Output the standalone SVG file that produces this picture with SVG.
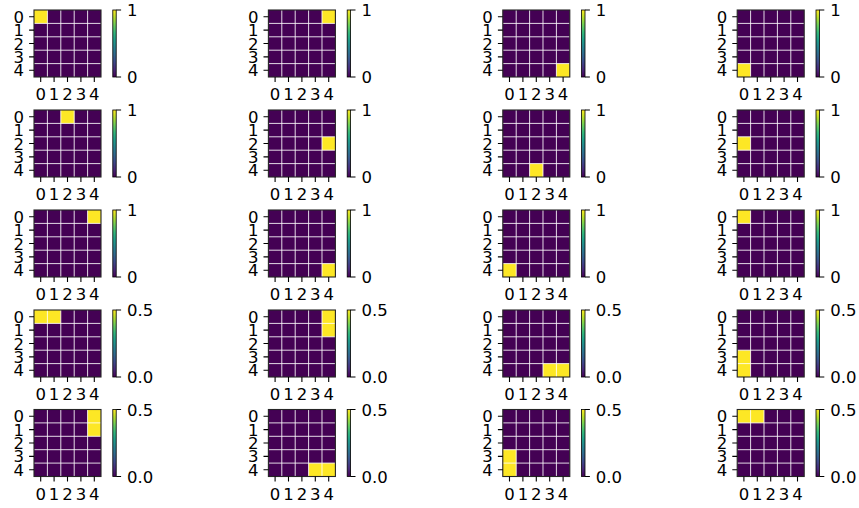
<svg xmlns="http://www.w3.org/2000/svg" xmlns:xlink="http://www.w3.org/1999/xlink" width="859" height="508" viewBox="0 0 859 508">
<style>
.bg{fill:#440154}
.hi{fill:#fde725}
text{font-family:"DejaVu Sans","Liberation Sans",sans-serif;font-size:16.5px;fill:#000}
.yl{text-anchor:end}
.xl{text-anchor:middle}
</style>
<defs>
<linearGradient id="vir" x1="0" y1="1" x2="0" y2="0">
<stop offset="0" stop-color="#440154"/>
<stop offset="0.111" stop-color="#482878"/>
<stop offset="0.222" stop-color="#3e4989"/>
<stop offset="0.333" stop-color="#31688e"/>
<stop offset="0.444" stop-color="#26828e"/>
<stop offset="0.556" stop-color="#1f9e89"/>
<stop offset="0.667" stop-color="#35b779"/>
<stop offset="0.778" stop-color="#6ece58"/>
<stop offset="0.889" stop-color="#b5de2b"/>
<stop offset="1" stop-color="#fde725"/>
</linearGradient>
<g id="ov">
<path d="M13.4 0V67M26.8 0V67M40.2 0V67M53.6 0V67M0 13.4H67M0 26.8H67M0 40.2H67M0 53.6H67" stroke="#ffffff" stroke-width="1" stroke-opacity="0.85" fill="none"/>
<rect x="0" y="0" width="67" height="67" fill="none" stroke="#262626" stroke-width="1.1"/>
<path d="M-4.9 6.7H0M-4.9 20.1H0M-4.9 33.5H0M-4.9 46.9H0M-4.9 60.3H0M6.7 67V71.9M20.1 67V71.9M33.5 67V71.9M46.9 67V71.9M60.3 67V71.9" stroke="#000" stroke-width="1.1" fill="none"/>
</g>
<g id="cb">
<rect x="78.8" y="0" width="3.4" height="67" fill="url(#vir)" stroke="#000" stroke-width="0.8"/>
<path d="M82.2 0H87.1M82.2 67H87.1" stroke="#000" stroke-width="1.1" fill="none"/>
</g>
</defs>
<g id="connectors"></g>

<!-- Row 1 -->
<g id="p1" transform="translate(34,10)">
<rect class="bg" width="67" height="67"/>
<rect class="hi" x="0" y="0" width="13.4" height="13.4"/>
<use href="#ov"/><use href="#cb"/>
<text class="yl" x="-10" y="12.7">0</text><text class="yl" x="-10" y="26.1">1</text><text class="yl" x="-10" y="39.5">2</text><text class="yl" x="-10" y="52.9">3</text><text class="yl" x="-10" y="66.3">4</text>
<text class="xl" x="6.7" y="90">0</text><text class="xl" x="20.1" y="90">1</text><text class="xl" x="33.5" y="90">2</text><text class="xl" x="46.9" y="90">3</text><text class="xl" x="60.3" y="90">4</text>
<text x="93" y="6">1</text><text x="93" y="73">0</text>
</g>
<g id="p2" transform="translate(268.4,10)">
<rect class="bg" width="67" height="67"/>
<rect class="hi" x="53.6" y="0" width="13.4" height="13.4"/>
<use href="#ov"/><use href="#cb"/>
<text class="yl" x="-10" y="12.7">0</text><text class="yl" x="-10" y="26.1">1</text><text class="yl" x="-10" y="39.5">2</text><text class="yl" x="-10" y="52.9">3</text><text class="yl" x="-10" y="66.3">4</text>
<text class="xl" x="6.7" y="90">0</text><text class="xl" x="20.1" y="90">1</text><text class="xl" x="33.5" y="90">2</text><text class="xl" x="46.9" y="90">3</text><text class="xl" x="60.3" y="90">4</text>
<text x="93" y="6">1</text><text x="93" y="73">0</text>
</g>
<g id="p3" transform="translate(502.8,10)">
<rect class="bg" width="67" height="67"/>
<rect class="hi" x="53.6" y="53.6" width="13.4" height="13.4"/>
<use href="#ov"/><use href="#cb"/>
<text class="yl" x="-10" y="12.7">0</text><text class="yl" x="-10" y="26.1">1</text><text class="yl" x="-10" y="39.5">2</text><text class="yl" x="-10" y="52.9">3</text><text class="yl" x="-10" y="66.3">4</text>
<text class="xl" x="6.7" y="90">0</text><text class="xl" x="20.1" y="90">1</text><text class="xl" x="33.5" y="90">2</text><text class="xl" x="46.9" y="90">3</text><text class="xl" x="60.3" y="90">4</text>
<text x="93" y="6">1</text><text x="93" y="73">0</text>
</g>
<g id="p4" transform="translate(737.2,10)">
<rect class="bg" width="67" height="67"/>
<rect class="hi" x="0" y="53.6" width="13.4" height="13.4"/>
<use href="#ov"/><use href="#cb"/>
<text class="yl" x="-10" y="12.7">0</text><text class="yl" x="-10" y="26.1">1</text><text class="yl" x="-10" y="39.5">2</text><text class="yl" x="-10" y="52.9">3</text><text class="yl" x="-10" y="66.3">4</text>
<text class="xl" x="6.7" y="90">0</text><text class="xl" x="20.1" y="90">1</text><text class="xl" x="33.5" y="90">2</text><text class="xl" x="46.9" y="90">3</text><text class="xl" x="60.3" y="90">4</text>
<text x="93" y="6">1</text><text x="93" y="73">0</text>
</g>

<!-- Row 2 -->
<g id="p5" transform="translate(34,110)">
<rect class="bg" width="67" height="67"/>
<rect class="hi" x="26.8" y="0" width="13.4" height="13.4"/>
<use href="#ov"/><use href="#cb"/>
<text class="yl" x="-10" y="12.7">0</text><text class="yl" x="-10" y="26.1">1</text><text class="yl" x="-10" y="39.5">2</text><text class="yl" x="-10" y="52.9">3</text><text class="yl" x="-10" y="66.3">4</text>
<text class="xl" x="6.7" y="90">0</text><text class="xl" x="20.1" y="90">1</text><text class="xl" x="33.5" y="90">2</text><text class="xl" x="46.9" y="90">3</text><text class="xl" x="60.3" y="90">4</text>
<text x="93" y="6">1</text><text x="93" y="73">0</text>
</g>
<g id="p6" transform="translate(268.4,110)">
<rect class="bg" width="67" height="67"/>
<rect class="hi" x="53.6" y="26.8" width="13.4" height="13.4"/>
<use href="#ov"/><use href="#cb"/>
<text class="yl" x="-10" y="12.7">0</text><text class="yl" x="-10" y="26.1">1</text><text class="yl" x="-10" y="39.5">2</text><text class="yl" x="-10" y="52.9">3</text><text class="yl" x="-10" y="66.3">4</text>
<text class="xl" x="6.7" y="90">0</text><text class="xl" x="20.1" y="90">1</text><text class="xl" x="33.5" y="90">2</text><text class="xl" x="46.9" y="90">3</text><text class="xl" x="60.3" y="90">4</text>
<text x="93" y="6">1</text><text x="93" y="73">0</text>
</g>
<g id="p7" transform="translate(502.8,110)">
<rect class="bg" width="67" height="67"/>
<rect class="hi" x="26.8" y="53.6" width="13.4" height="13.4"/>
<use href="#ov"/><use href="#cb"/>
<text class="yl" x="-10" y="12.7">0</text><text class="yl" x="-10" y="26.1">1</text><text class="yl" x="-10" y="39.5">2</text><text class="yl" x="-10" y="52.9">3</text><text class="yl" x="-10" y="66.3">4</text>
<text class="xl" x="6.7" y="90">0</text><text class="xl" x="20.1" y="90">1</text><text class="xl" x="33.5" y="90">2</text><text class="xl" x="46.9" y="90">3</text><text class="xl" x="60.3" y="90">4</text>
<text x="93" y="6">1</text><text x="93" y="73">0</text>
</g>
<g id="p8" transform="translate(737.2,110)">
<rect class="bg" width="67" height="67"/>
<rect class="hi" x="0" y="26.8" width="13.4" height="13.4"/>
<use href="#ov"/><use href="#cb"/>
<text class="yl" x="-10" y="12.7">0</text><text class="yl" x="-10" y="26.1">1</text><text class="yl" x="-10" y="39.5">2</text><text class="yl" x="-10" y="52.9">3</text><text class="yl" x="-10" y="66.3">4</text>
<text class="xl" x="6.7" y="90">0</text><text class="xl" x="20.1" y="90">1</text><text class="xl" x="33.5" y="90">2</text><text class="xl" x="46.9" y="90">3</text><text class="xl" x="60.3" y="90">4</text>
<text x="93" y="6">1</text><text x="93" y="73">0</text>
</g>

<!-- Row 3 -->
<g id="p9" transform="translate(34,210)">
<rect class="bg" width="67" height="67"/>
<rect class="hi" x="53.6" y="0" width="13.4" height="13.4"/>
<use href="#ov"/><use href="#cb"/>
<text class="yl" x="-10" y="12.7">0</text><text class="yl" x="-10" y="26.1">1</text><text class="yl" x="-10" y="39.5">2</text><text class="yl" x="-10" y="52.9">3</text><text class="yl" x="-10" y="66.3">4</text>
<text class="xl" x="6.7" y="90">0</text><text class="xl" x="20.1" y="90">1</text><text class="xl" x="33.5" y="90">2</text><text class="xl" x="46.9" y="90">3</text><text class="xl" x="60.3" y="90">4</text>
<text x="93" y="6">1</text><text x="93" y="73">0</text>
</g>
<g id="p10" transform="translate(268.4,210)">
<rect class="bg" width="67" height="67"/>
<rect class="hi" x="53.6" y="53.6" width="13.4" height="13.4"/>
<use href="#ov"/><use href="#cb"/>
<text class="yl" x="-10" y="12.7">0</text><text class="yl" x="-10" y="26.1">1</text><text class="yl" x="-10" y="39.5">2</text><text class="yl" x="-10" y="52.9">3</text><text class="yl" x="-10" y="66.3">4</text>
<text class="xl" x="6.7" y="90">0</text><text class="xl" x="20.1" y="90">1</text><text class="xl" x="33.5" y="90">2</text><text class="xl" x="46.9" y="90">3</text><text class="xl" x="60.3" y="90">4</text>
<text x="93" y="6">1</text><text x="93" y="73">0</text>
</g>
<g id="p11" transform="translate(502.8,210)">
<rect class="bg" width="67" height="67"/>
<rect class="hi" x="0" y="53.6" width="13.4" height="13.4"/>
<use href="#ov"/><use href="#cb"/>
<text class="yl" x="-10" y="12.7">0</text><text class="yl" x="-10" y="26.1">1</text><text class="yl" x="-10" y="39.5">2</text><text class="yl" x="-10" y="52.9">3</text><text class="yl" x="-10" y="66.3">4</text>
<text class="xl" x="6.7" y="90">0</text><text class="xl" x="20.1" y="90">1</text><text class="xl" x="33.5" y="90">2</text><text class="xl" x="46.9" y="90">3</text><text class="xl" x="60.3" y="90">4</text>
<text x="93" y="6">1</text><text x="93" y="73">0</text>
</g>
<g id="p12" transform="translate(737.2,210)">
<rect class="bg" width="67" height="67"/>
<rect class="hi" x="0" y="0" width="13.4" height="13.4"/>
<use href="#ov"/><use href="#cb"/>
<text class="yl" x="-10" y="12.7">0</text><text class="yl" x="-10" y="26.1">1</text><text class="yl" x="-10" y="39.5">2</text><text class="yl" x="-10" y="52.9">3</text><text class="yl" x="-10" y="66.3">4</text>
<text class="xl" x="6.7" y="90">0</text><text class="xl" x="20.1" y="90">1</text><text class="xl" x="33.5" y="90">2</text><text class="xl" x="46.9" y="90">3</text><text class="xl" x="60.3" y="90">4</text>
<text x="93" y="6">1</text><text x="93" y="73">0</text>
</g>

<!-- Row 4 -->
<g id="p13" transform="translate(34,310)">
<rect class="bg" width="67" height="67"/>
<rect class="hi" x="0" y="0" width="26.8" height="13.4"/>
<use href="#ov"/><use href="#cb"/>
<text class="yl" x="-10" y="12.7">0</text><text class="yl" x="-10" y="26.1">1</text><text class="yl" x="-10" y="39.5">2</text><text class="yl" x="-10" y="52.9">3</text><text class="yl" x="-10" y="66.3">4</text>
<text class="xl" x="6.7" y="90">0</text><text class="xl" x="20.1" y="90">1</text><text class="xl" x="33.5" y="90">2</text><text class="xl" x="46.9" y="90">3</text><text class="xl" x="60.3" y="90">4</text>
<text x="93" y="6">0.5</text><text x="93" y="73">0.0</text>
</g>
<g id="p14" transform="translate(268.4,310)">
<rect class="bg" width="67" height="67"/>
<rect class="hi" x="53.6" y="0" width="13.4" height="26.8"/>
<use href="#ov"/><use href="#cb"/>
<text class="yl" x="-10" y="12.7">0</text><text class="yl" x="-10" y="26.1">1</text><text class="yl" x="-10" y="39.5">2</text><text class="yl" x="-10" y="52.9">3</text><text class="yl" x="-10" y="66.3">4</text>
<text class="xl" x="6.7" y="90">0</text><text class="xl" x="20.1" y="90">1</text><text class="xl" x="33.5" y="90">2</text><text class="xl" x="46.9" y="90">3</text><text class="xl" x="60.3" y="90">4</text>
<text x="93" y="6">0.5</text><text x="93" y="73">0.0</text>
</g>
<g id="p15" transform="translate(502.8,310)">
<rect class="bg" width="67" height="67"/>
<rect class="hi" x="40.2" y="53.6" width="26.8" height="13.4"/>
<use href="#ov"/><use href="#cb"/>
<text class="yl" x="-10" y="12.7">0</text><text class="yl" x="-10" y="26.1">1</text><text class="yl" x="-10" y="39.5">2</text><text class="yl" x="-10" y="52.9">3</text><text class="yl" x="-10" y="66.3">4</text>
<text class="xl" x="6.7" y="90">0</text><text class="xl" x="20.1" y="90">1</text><text class="xl" x="33.5" y="90">2</text><text class="xl" x="46.9" y="90">3</text><text class="xl" x="60.3" y="90">4</text>
<text x="93" y="6">0.5</text><text x="93" y="73">0.0</text>
</g>
<g id="p16" transform="translate(737.2,310)">
<rect class="bg" width="67" height="67"/>
<rect class="hi" x="0" y="40.2" width="13.4" height="26.8"/>
<use href="#ov"/><use href="#cb"/>
<text class="yl" x="-10" y="12.7">0</text><text class="yl" x="-10" y="26.1">1</text><text class="yl" x="-10" y="39.5">2</text><text class="yl" x="-10" y="52.9">3</text><text class="yl" x="-10" y="66.3">4</text>
<text class="xl" x="6.7" y="90">0</text><text class="xl" x="20.1" y="90">1</text><text class="xl" x="33.5" y="90">2</text><text class="xl" x="46.9" y="90">3</text><text class="xl" x="60.3" y="90">4</text>
<text x="93" y="6">0.5</text><text x="93" y="73">0.0</text>
</g>

<!-- Row 5 -->
<g id="p17" transform="translate(34,409.5)">
<rect class="bg" width="67" height="67"/>
<rect class="hi" x="53.6" y="0" width="13.4" height="26.8"/>
<use href="#ov"/><use href="#cb"/>
<text class="yl" x="-10" y="12.7">0</text><text class="yl" x="-10" y="26.1">1</text><text class="yl" x="-10" y="39.5">2</text><text class="yl" x="-10" y="52.9">3</text><text class="yl" x="-10" y="66.3">4</text>
<text class="xl" x="6.7" y="90">0</text><text class="xl" x="20.1" y="90">1</text><text class="xl" x="33.5" y="90">2</text><text class="xl" x="46.9" y="90">3</text><text class="xl" x="60.3" y="90">4</text>
<text x="93" y="6">0.5</text><text x="93" y="73">0.0</text>
</g>
<g id="p18" transform="translate(268.4,409.5)">
<rect class="bg" width="67" height="67"/>
<rect class="hi" x="40.2" y="53.6" width="26.8" height="13.4"/>
<use href="#ov"/><use href="#cb"/>
<text class="yl" x="-10" y="12.7">0</text><text class="yl" x="-10" y="26.1">1</text><text class="yl" x="-10" y="39.5">2</text><text class="yl" x="-10" y="52.9">3</text><text class="yl" x="-10" y="66.3">4</text>
<text class="xl" x="6.7" y="90">0</text><text class="xl" x="20.1" y="90">1</text><text class="xl" x="33.5" y="90">2</text><text class="xl" x="46.9" y="90">3</text><text class="xl" x="60.3" y="90">4</text>
<text x="93" y="6">0.5</text><text x="93" y="73">0.0</text>
</g>
<g id="p19" transform="translate(502.8,409.5)">
<rect class="bg" width="67" height="67"/>
<rect class="hi" x="0" y="40.2" width="13.4" height="26.8"/>
<use href="#ov"/><use href="#cb"/>
<text class="yl" x="-10" y="12.7">0</text><text class="yl" x="-10" y="26.1">1</text><text class="yl" x="-10" y="39.5">2</text><text class="yl" x="-10" y="52.9">3</text><text class="yl" x="-10" y="66.3">4</text>
<text class="xl" x="6.7" y="90">0</text><text class="xl" x="20.1" y="90">1</text><text class="xl" x="33.5" y="90">2</text><text class="xl" x="46.9" y="90">3</text><text class="xl" x="60.3" y="90">4</text>
<text x="93" y="6">0.5</text><text x="93" y="73">0.0</text>
</g>
<g id="p20" transform="translate(737.2,409.5)">
<rect class="bg" width="67" height="67"/>
<rect class="hi" x="0" y="0" width="26.8" height="13.4"/>
<use href="#ov"/><use href="#cb"/>
<text class="yl" x="-10" y="12.7">0</text><text class="yl" x="-10" y="26.1">1</text><text class="yl" x="-10" y="39.5">2</text><text class="yl" x="-10" y="52.9">3</text><text class="yl" x="-10" y="66.3">4</text>
<text class="xl" x="6.7" y="90">0</text><text class="xl" x="20.1" y="90">1</text><text class="xl" x="33.5" y="90">2</text><text class="xl" x="46.9" y="90">3</text><text class="xl" x="60.3" y="90">4</text>
<text x="93" y="6">0.5</text><text x="93" y="73">0.0</text>
</g>
</svg>
